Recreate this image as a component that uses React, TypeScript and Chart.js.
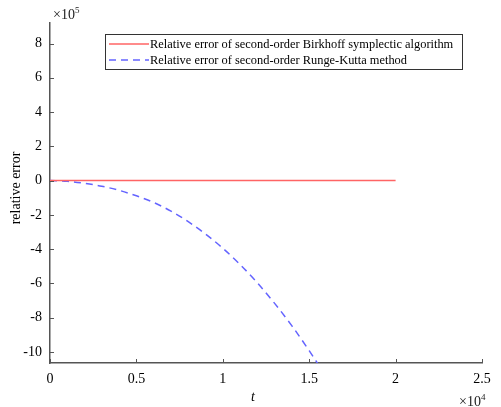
import React, { useEffect, useRef } from "react";
import { Chart, registerables } from "chart.js";

Chart.register(...registerables);

// t in units of 10^4, relative error in units of 10^5
const birkhoffT = [0, 0.5, 1, 1.5, 2.0];
const birkhoffErr = [0, 0, 0, 0, 0];
const rkT = [0, 0.1, 0.2, 0.3, 0.4, 0.5, 0.6, 0.7, 0.8, 0.9, 1.0, 1.1, 1.2, 1.3, 1.4, 1.5, 1.56];
const rkErr = [0, -0.04, -0.16, -0.33, -0.57, -0.89, -1.28, -1.78, -2.4, -3.12, -3.95, -4.9, -5.97, -7.17, -8.48, -9.93, -10.85];
const xTickValues = [0, 0.5, 1, 1.5, 2, 2.5];
const yTickValues = [-10, -8, -6, -4, -2, 0, 2, 4, 6, 8];
const seriesNames = [
  "Relative error of second-order Birkhoff symplectic algorithm",
  "Relative error of second-order Runge-Kutta method",
];
const xTitle = "t";
const yTitle = "relative error";
const xExponent = "4";
const yExponent = "5";

const SERIF = "'Liberation Serif', 'Times New Roman', serif";
const AXIS_COLOR = "#555555";
const RED = "#ff6464";
const BLUE = "#6464ff";

const decorPlugin = {
  id: "decor",
  afterDraw(chart: any) {
    const ctx = chart.ctx as CanvasRenderingContext2D;
    const xs = chart.scales.x;
    const ys = chart.scales.y;
    const area = chart.chartArea;
    ctx.save();
    // inward ticks
    ctx.strokeStyle = AXIS_COLOR;
    ctx.lineWidth = 1;
    xTickValues.forEach((v) => {
      const px = Math.round(xs.getPixelForValue(v)) + 0.5;
      ctx.beginPath();
      ctx.moveTo(px, area.bottom);
      ctx.lineTo(px, area.bottom - 4);
      ctx.stroke();
    });
    yTickValues.forEach((v) => {
      const py = Math.round(ys.getPixelForValue(v)) + 0.5;
      ctx.beginPath();
      ctx.moveTo(area.left, py);
      ctx.lineTo(area.left + 4, py);
      ctx.stroke();
    });

    // titles
    ctx.fillStyle = "#000";
    ctx.font = `italic 14px ${SERIF}`;
    ctx.textAlign = "center";
    ctx.textBaseline = "middle";
    ctx.fillText(xTitle, 253, 397);

    ctx.save();
    ctx.translate(16, 188);
    ctx.rotate(-Math.PI / 2);
    ctx.font = `14px ${SERIF}`;
    ctx.fillText(yTitle, 0, 0);
    ctx.restore();

    // exponent labels
    const drawExp = (x: number, y: number, exp: string) => {
      ctx.font = `14px ${SERIF}`;
      ctx.textAlign = "left";
      ctx.textBaseline = "alphabetic";
      ctx.fillStyle = "#222";
      const base = "×10";
      ctx.fillText(base, x, y);
      const w = ctx.measureText(base).width;
      ctx.font = `9px ${SERIF}`;
      ctx.fillText(exp, x + w, y - 6);
    };
    drawExp(53, 19, yExponent);
    drawExp(459, 406, xExponent);

    // legend
    const bx = 105, by = 34, bw = 357, bh = 35;
    ctx.fillStyle = "#fff";
    ctx.fillRect(bx, by, bw, bh);
    ctx.strokeStyle = "#333";
    ctx.lineWidth = 1;
    ctx.strokeRect(bx + 0.5, by + 0.5, bw, bh);
    const rows = [
      { y: 44, color: RED, dash: [] as number[] },
      { y: 60, color: BLUE, dash: [7, 5] },
    ];
    rows.forEach((r, i) => {
      ctx.strokeStyle = r.color;
      ctx.lineWidth = 1.5;
      ctx.setLineDash(r.dash);
      ctx.beginPath();
      ctx.moveTo(109, r.y);
      ctx.lineTo(149, r.y);
      ctx.stroke();
      ctx.setLineDash([]);
      ctx.fillStyle = "#000";
      ctx.font = `12.4px ${SERIF}`;
      ctx.textAlign = "left";
      ctx.textBaseline = "middle";
      ctx.fillText(seriesNames[i], 150, r.y + 1);
    });
    ctx.restore();
  },
};

export default function App() {
  const canvasRef = useRef<HTMLCanvasElement | null>(null);

  useEffect(() => {
    document.body.style.margin = "0";
    const canvas = canvasRef.current;
    if (!canvas) return;
    const chart = new Chart(canvas, {
      type: "line",
      data: {
        datasets: [
          {
            label: seriesNames[0],
            data: birkhoffT.map((t, i) => ({ x: t, y: birkhoffErr[i] })),
            borderColor: RED,
            borderWidth: 1.5,
            pointRadius: 0,
            fill: false,
          },
          {
            label: seriesNames[1],
            data: rkT.map((t, i) => ({ x: t, y: rkErr[i] })),
            borderColor: BLUE,
            borderWidth: 1.5,
            borderDash: [7, 5],
            pointRadius: 0,
            cubicInterpolationMode: "monotone",
            fill: false,
          },
        ],
      },
      options: {
        animation: false,
        responsive: false,
        devicePixelRatio: 1,
        layout: { padding: { left: 0, right: 19, top: 23, bottom: 0 } },
        plugins: { legend: { display: false }, tooltip: { enabled: false } },
        scales: {
          x: {
            type: "linear",
            min: 0,
            max: 2.5,
            afterFit: (s: any) => {
              s.height = 44;
            },
            afterBuildTicks: (s: any) => {
              s.ticks = xTickValues.map((v) => ({ value: v }));
            },
            grid: { display: false, drawTicks: false },
            border: { display: true, color: AXIS_COLOR, width: 1.5 },
            ticks: {
              color: "#000",
              font: { family: SERIF, size: 14 },
              padding: 8,
              maxRotation: 0,
              callback: (v: any) => String(v),
            },
          },
          y: {
            type: "linear",
            min: -10.65,
            max: 9.2,
            afterFit: (s: any) => {
              s.width = 50;
            },
            afterBuildTicks: (s: any) => {
              s.ticks = yTickValues.map((v) => ({ value: v }));
            },
            grid: { display: false, drawTicks: false },
            border: { display: true, color: AXIS_COLOR, width: 1.5 },
            ticks: {
              color: "#000",
              font: { family: SERIF, size: 14 },
              padding: 8,
              callback: (v: any) => String(v),
            },
          },
        },
      },
      plugins: [decorPlugin],
    } as any);
    return () => chart.destroy();
  }, []);

  return (
    <div style={{ width: 501, height: 407, background: "#fff" }}>
      <canvas ref={canvasRef} width={501} height={407} style={{ display: "block" }} />
    </div>
  );
}
